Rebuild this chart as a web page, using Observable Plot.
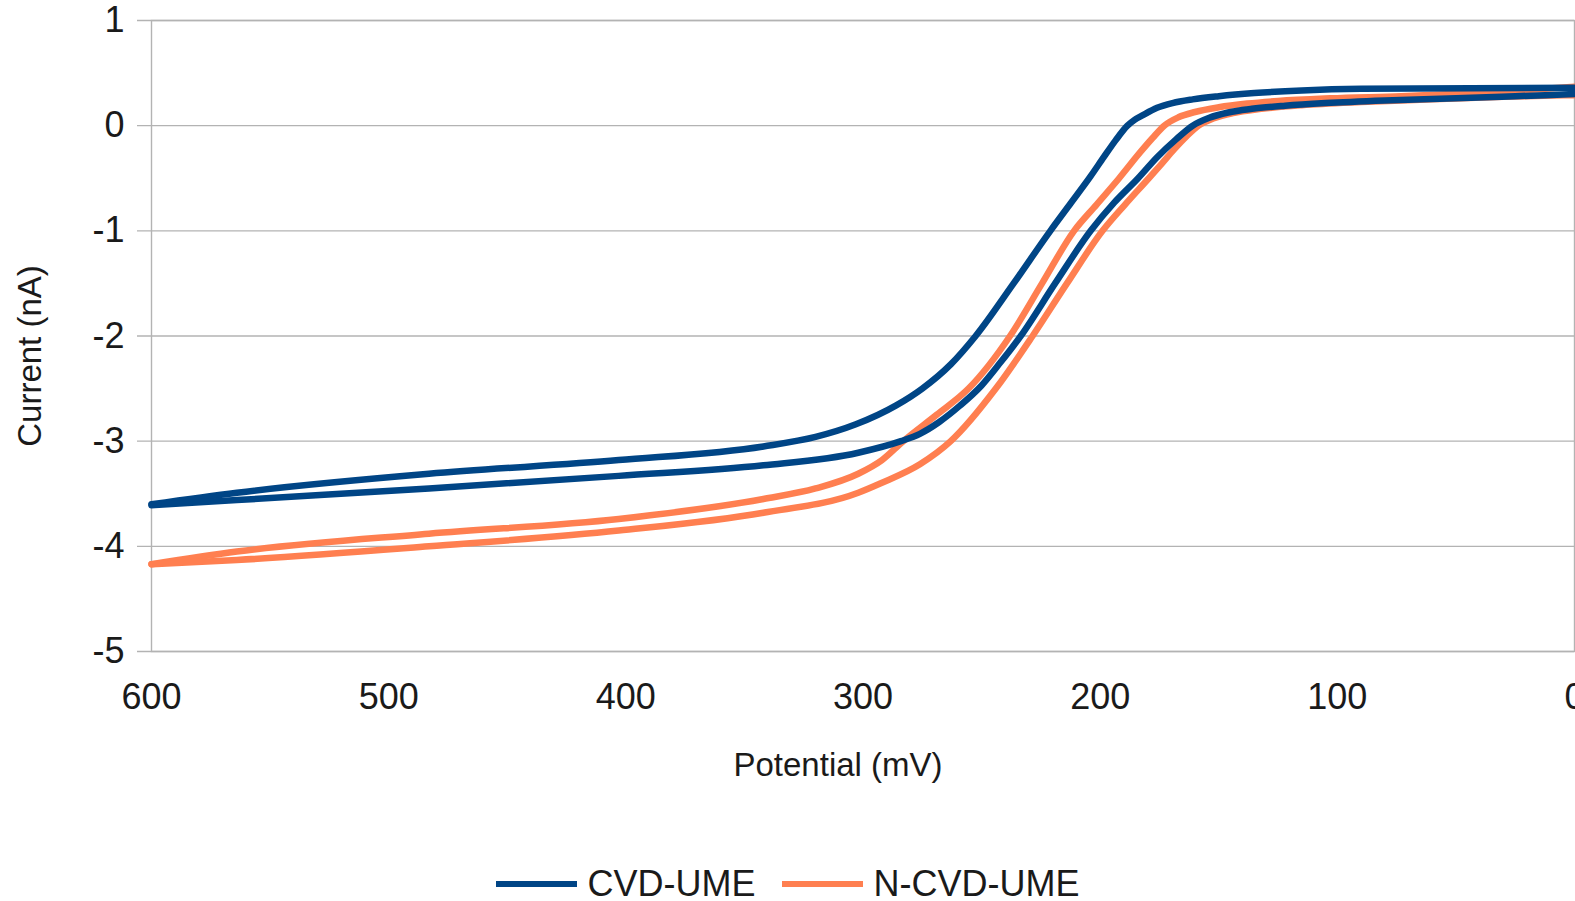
<!DOCTYPE html>
<html>
<head>
<meta charset="utf-8">
<script src="https://cdn.jsdelivr.net/npm/d3@7"></script>
<script src="https://cdn.jsdelivr.net/npm/@observablehq/plot@0.6"></script>
<style>
  body { margin: 0; background: #fff; font-family: "Liberation Sans", Arial, sans-serif; overflow: hidden; }
  #chart svg { display: block; }
  #legend { display: flex; justify-content: center; align-items: center; padding-top: 69px; font-size: 36px; color: #1a1a1a; line-height: 30px; }
  .item { display: flex; align-items: center; }
  .item + .item { margin-left: 26px; }
  .sw { width: 81px; height: 6px; margin-right: 11px; }
</style>
</head>
<body>
<div id="chart"></div>
<div id="legend"></div>
<script>
// Series
const seriesNames = ["CVD-UME", "N-CVD-UME"];
const seriesColors = ["#004586", "#ff7f50"];

// CVD-UME, upper branch (potential mV, current nA)
const cvdUpperX = [600, 564, 483, 403, 342, 320, 303, 286, 275, 263, 252.5, 236.5, 221, 212.5, 204, 198.5, 193.5, 188.5, 185.5, 182, 176, 169.5, 161, 150, 135, 115, 90, 0];
const cvdUpperY = [-3.60, -3.49, -3.31, -3.18, -3.05, -2.96, -2.84, -2.66, -2.50, -2.27, -2.00, -1.50, -1.00, -0.74, -0.48, -0.30, -0.14, 0.00, 0.055, 0.10, 0.17, 0.215, 0.25, 0.28, 0.31, 0.335, 0.35, 0.36];
// CVD-UME, lower branch
const cvdLowerX = [600, 564, 483, 403, 342, 302, 284, 276, 268, 259, 250, 242, 233.5, 219, 204, 194, 184, 176, 168, 161, 154, 146, 136, 122, 105, 80, 50, 25, 0];
const cvdLowerY = [-3.61, -3.56, -3.45, -3.33, -3.23, -3.11, -3.00, -2.93, -2.82, -2.66, -2.47, -2.25, -2.00, -1.50, -1.00, -0.73, -0.50, -0.30, -0.13, 0.00, 0.075, 0.125, 0.16, 0.19, 0.215, 0.24, 0.26, 0.28, 0.30];
// N-CVD-UME, upper branch
const ncvdUpperX = [600, 564, 483, 403, 342, 320, 302, 292, 283, 269, 255.5, 238, 224.5, 211, 201.5, 192, 183, 178, 173, 167, 160, 150, 138, 125, 103, 73, 52, 20, 0];
const ncvdUpperY = [-4.17, -4.05, -3.88, -3.74, -3.55, -3.45, -3.31, -3.18, -3.00, -2.75, -2.50, -2.00, -1.50, -1.00, -0.75, -0.50, -0.25, -0.12, 0.00, 0.08, 0.13, 0.175, 0.21, 0.235, 0.26, 0.28, 0.30, 0.34, 0.37];
// N-CVD-UME, lower branch
const ncvdLowerX = [600, 564, 483, 403, 342, 302, 292.5, 276, 263, 244, 228.5, 214, 199, 189.5, 179.5, 174, 169, 163.5, 158.5, 152, 144, 132, 115, 90, 60, 30, 0];
const ncvdLowerY = [-4.17, -4.13, -4.00, -3.85, -3.68, -3.49, -3.40, -3.22, -3.00, -2.50, -2.00, -1.50, -1.00, -0.75, -0.50, -0.36, -0.23, -0.10, 0.00, 0.07, 0.12, 0.16, 0.195, 0.225, 0.25, 0.275, 0.29];

// Ticks and titles
const xTicks = [600, 500, 400, 300, 200, 100, 0];
const yTicks = [1, 0, -1, -2, -3, -4, -5];
const xLabel = "Potential (mV)";
const yLabel = "Current (nA)";

function rows(series, branch, xs, ys) {
  return xs.map((x, i) => ({ series, branch, potential: x, current: ys[i] }))
           .sort((a, b) => a.potential - b.potential);
}
// orange first so blue is drawn on top
const data = [
  ...rows("N-CVD-UME", "upper", ncvdUpperX, ncvdUpperY),
  ...rows("N-CVD-UME", "lower", ncvdLowerX, ncvdLowerY),
  ...rows("CVD-UME", "upper", cvdUpperX, cvdUpperY),
  ...rows("CVD-UME", "lower", cvdLowerX, cvdLowerY)
];

const font = "Liberation Sans, Arial, sans-serif";
const chart = Plot.plot({
  width: 1575,
  height: 800,
  marginTop: 20,
  marginBottom: 149,
  marginLeft: 151,
  marginRight: 1,
  style: { fontFamily: font, color: "#1a1a1a", background: "#fff", overflow: "visible" },
  x: { domain: [600, 0], ticks: xTicks },
  y: { domain: [-5, 1], ticks: yTicks },
  color: { domain: seriesNames, range: seriesColors },
  marks: [
    Plot.ruleY(yTicks, { stroke: "#b3b3b3", strokeWidth: 1.4, insetLeft: -14 }),
    Plot.frame({ stroke: "#b3b3b3", strokeWidth: 1.4 }),
    Plot.axisX({ ticks: xTicks, tickSize: 0, tickPadding: 32, fontSize: 36, label: null, tickFormat: d => String(d) }),
    Plot.axisY({ ticks: yTicks, tickSize: 0, tickPadding: 27, fontSize: 36, label: null, tickFormat: d => String(d) }),
    Plot.line(data, {
      x: "potential", y: "current", z: d => d.series + d.branch, stroke: "series",
      strokeWidth: 6.5, curve: "monotone-x", strokeLinejoin: "round", strokeLinecap: "round"
    }),
    Plot.text([xLabel], { text: d => d, frameAnchor: "bottom", textAnchor: "middle", dy: 124, dx: -25, fontSize: 33 }),
    Plot.text([yLabel], { text: d => d, frameAnchor: "left", textAnchor: "middle", rotate: -90, dx: -121, dy: 20, fontSize: 33 })
  ]
});
document.getElementById("chart").appendChild(chart);

const legend = document.getElementById("legend");
seriesNames.forEach((name, i) => {
  const item = document.createElement("div");
  item.className = "item";
  const sw = document.createElement("div");
  sw.className = "sw";
  sw.style.background = seriesColors[i];
  const label = document.createElement("span");
  label.textContent = name;
  item.appendChild(sw);
  item.appendChild(label);
  legend.appendChild(item);
});
</script>
</body>
</html>
